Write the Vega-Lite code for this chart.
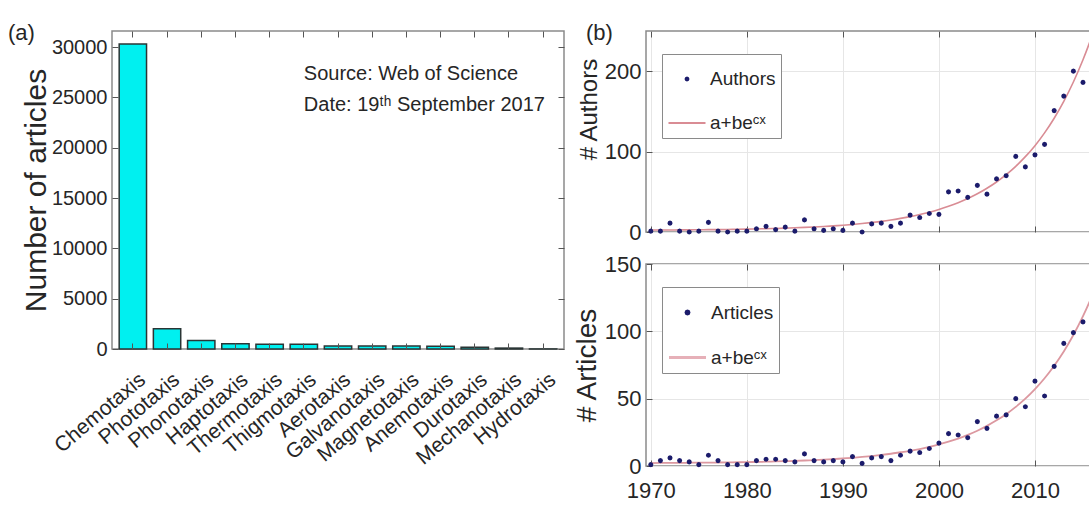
{
  "$schema": "https://vega.github.io/schema/vega-lite/v6.json",
  "background": "white",
  "padding": {"left": 7, "top": 20, "right": 0, "bottom": 0},
  "config": {
    "font": "Liberation Sans, Arial, sans-serif",
    "view": {"stroke": "#8a8a8a", "strokeWidth": 1.5},
    "axis": {
      "domain": false,
      "labelColor": "#262626",
      "titleColor": "#262626",
      "tickColor": "#555555",
      "tickSize": -6,
      "labelPadding": 11,
      "titleFontWeight": "normal",
      "gridColor": "#e6e6e6",
      "gridWidth": 1
    },
    "legend": {"symbolOpacity": 1},
    "title": {"fontSize": 22, "fontWeight": "normal", "color": "#262626", "anchor": "start", "frame": "group", "baseline": "middle", "offset": -14}
  },
  "datasets": {
    "taxis": [
      {"taxis": "Chemotaxis", "articles": 30300},
      {"taxis": "Phototaxis", "articles": 2000},
      {"taxis": "Phonotaxis", "articles": 850},
      {"taxis": "Haptotaxis", "articles": 520},
      {"taxis": "Thermotaxis", "articles": 480},
      {"taxis": "Thigmotaxis", "articles": 470},
      {"taxis": "Aerotaxis", "articles": 300},
      {"taxis": "Galvanotaxis", "articles": 290},
      {"taxis": "Magnetotaxis", "articles": 290},
      {"taxis": "Anemotaxis", "articles": 280},
      {"taxis": "Durotaxis", "articles": 180},
      {"taxis": "Mechanotaxis", "articles": 90},
      {"taxis": "Hydrotaxis", "articles": 5}
    ],
    "notes": [
      {"taxis": "Thigmotaxis", "articles": 27300, "note": "Source: Web of Science"},
      {"taxis": "Thigmotaxis", "articles": 24200, "note": "Date: 19ᵗʰ September 2017"}
    ],
    "yearly": [
      {"year": 1970, "authors": 1, "authorsFit": 2.4, "articles": 1, "articlesFit": 2.2},
      {"year": 1971, "authors": 1, "authorsFit": 2.4, "articles": 4, "articlesFit": 2.3},
      {"year": 1972, "authors": 11, "authorsFit": 2.5, "articles": 6, "articlesFit": 2.3},
      {"year": 1973, "authors": 1, "authorsFit": 2.6, "articles": 4, "articlesFit": 2.3},
      {"year": 1974, "authors": 0, "authorsFit": 2.7, "articles": 3, "articlesFit": 2.4},
      {"year": 1975, "authors": 1, "authorsFit": 2.8, "articles": 1, "articlesFit": 2.5},
      {"year": 1976, "authors": 12, "authorsFit": 2.9, "articles": 8, "articlesFit": 2.5},
      {"year": 1977, "authors": 1, "authorsFit": 3.0, "articles": 4, "articlesFit": 2.6},
      {"year": 1978, "authors": 0, "authorsFit": 3.2, "articles": 1, "articlesFit": 2.7},
      {"year": 1979, "authors": 1, "authorsFit": 3.4, "articles": 1, "articlesFit": 2.8},
      {"year": 1980, "authors": 1, "authorsFit": 3.6, "articles": 1, "articlesFit": 2.9},
      {"year": 1981, "authors": 4, "authorsFit": 3.8, "articles": 4, "articlesFit": 3.0},
      {"year": 1982, "authors": 7, "authorsFit": 4.1, "articles": 5, "articlesFit": 3.2},
      {"year": 1983, "authors": 3, "authorsFit": 4.4, "articles": 5, "articlesFit": 3.4},
      {"year": 1984, "authors": 6, "authorsFit": 4.8, "articles": 4, "articlesFit": 3.6},
      {"year": 1985, "authors": 1, "authorsFit": 5.2, "articles": 3, "articlesFit": 3.8},
      {"year": 1986, "authors": 15, "authorsFit": 5.7, "articles": 9, "articlesFit": 4.1},
      {"year": 1987, "authors": 4, "authorsFit": 6.2, "articles": 4, "articlesFit": 4.4},
      {"year": 1988, "authors": 2, "authorsFit": 6.8, "articles": 3, "articlesFit": 4.7},
      {"year": 1989, "authors": 4, "authorsFit": 7.6, "articles": 4, "articlesFit": 5.1},
      {"year": 1990, "authors": 2, "authorsFit": 8.4, "articles": 3, "articlesFit": 5.6},
      {"year": 1991, "authors": 11, "authorsFit": 9.4, "articles": 7, "articlesFit": 6.1},
      {"year": 1992, "authors": 0, "authorsFit": 10.5, "articles": 2, "articlesFit": 6.7},
      {"year": 1993, "authors": 10, "authorsFit": 11.8, "articles": 6, "articlesFit": 7.4},
      {"year": 1994, "authors": 11, "authorsFit": 13.2, "articles": 7, "articlesFit": 8.2},
      {"year": 1995, "authors": 7, "authorsFit": 14.9, "articles": 4, "articlesFit": 9.1},
      {"year": 1996, "authors": 11, "authorsFit": 16.9, "articles": 8, "articlesFit": 10.2},
      {"year": 1997, "authors": 21, "authorsFit": 19.1, "articles": 11, "articlesFit": 11.3},
      {"year": 1998, "authors": 18, "authorsFit": 21.7, "articles": 10, "articlesFit": 12.6},
      {"year": 1999, "authors": 23, "authorsFit": 24.6, "articles": 13, "articlesFit": 14.2},
      {"year": 2000, "authors": 22, "authorsFit": 28.0, "articles": 17, "articlesFit": 16.0},
      {"year": 2001, "authors": 50, "authorsFit": 31.9, "articles": 24, "articlesFit": 18.1},
      {"year": 2002, "authors": 51, "authorsFit": 36.4, "articles": 23, "articlesFit": 20.4},
      {"year": 2003, "authors": 43, "authorsFit": 41.6, "articles": 21, "articlesFit": 23.1},
      {"year": 2004, "authors": 58, "authorsFit": 47.5, "articles": 33, "articlesFit": 26.2},
      {"year": 2005, "authors": 47, "authorsFit": 54.4, "articles": 28, "articlesFit": 29.8},
      {"year": 2006, "authors": 66, "authorsFit": 62.2, "articles": 37, "articlesFit": 33.9},
      {"year": 2007, "authors": 70, "authorsFit": 71.3, "articles": 38, "articlesFit": 38.5},
      {"year": 2008, "authors": 94, "authorsFit": 81.7, "articles": 50, "articlesFit": 43.9},
      {"year": 2009, "authors": 81, "authorsFit": 93.7, "articles": 44, "articlesFit": 50.0},
      {"year": 2010, "authors": 96, "authorsFit": 107.4, "articles": 63, "articlesFit": 57.1},
      {"year": 2011, "authors": 109, "authorsFit": 123.3, "articles": 52, "articlesFit": 65.2},
      {"year": 2012, "authors": 151, "authorsFit": 141.5, "articles": 74, "articlesFit": 74.5},
      {"year": 2013, "authors": 169, "authorsFit": 162.5, "articles": 91, "articlesFit": 85.1},
      {"year": 2014, "authors": 200, "authorsFit": 186.6, "articles": 99, "articlesFit": 97.3},
      {"year": 2015, "authors": 186, "authorsFit": 214.3, "articles": 107, "articlesFit": 111.3},
      {"year": 2016, "authorsFit": 246.2, "articlesFit": 127.4},
      {"year": 2017, "authorsFit": 282.9, "articlesFit": 145.8}
    ]
  },
  "spacing": 6,
  "resolve": {"scale": {"shape": "independent", "color": "independent"}, "legend": {"shape": "independent", "color": "independent"}},
  "hconcat": [
    {
      "width": 452,
      "height": 318,
      "title": {"text": "(a)", "dx": -104},
      "layer": [
        {
          "data": {"name": "taxis"},
          "mark": {"type": "bar", "fill": "#00f0f0", "stroke": "#2a3535", "strokeWidth": 1.5},
          "encoding": {
            "x": {
              "field": "taxis", "type": "nominal",
              "scale": {"domain": ["Chemotaxis", "Phototaxis", "Phonotaxis", "Haptotaxis", "Thermotaxis", "Thigmotaxis", "Aerotaxis", "Galvanotaxis", "Magnetotaxis", "Anemotaxis", "Durotaxis", "Mechanotaxis", "Hydrotaxis"], "paddingInner": 0.2, "paddingOuter": 0.21},
              "axis": {"orient": "bottom", "title": null, "labelAngle": -40, "labelAlign": "right", "labelBaseline": "middle", "labelFontSize": 21, "labelPadding": 34, "labelOffset": 10, "zindex": 1}
            },
            "y": {
              "field": "articles", "type": "quantitative",
              "scale": {"domain": [0, 31600], "nice": false},
              "axis": {"orient": "left", "title": "Number of articles", "values": [0, 5000, 10000, 15000, 20000, 25000, 30000], "format": "d", "labelFontSize": 20, "titleFontSize": 30, "titlePadding": 0, "grid": false, "zindex": 1}
            }
          }
        },
        {
          "data": {"name": "notes"},
          "mark": {"type": "text", "align": "left", "baseline": "middle", "fontSize": 20, "color": "#262626"},
          "encoding": {
            "x": {"field": "taxis", "type": "nominal", "scale": {"domain": ["Chemotaxis", "Phototaxis", "Phonotaxis", "Haptotaxis", "Thermotaxis", "Thigmotaxis", "Aerotaxis", "Galvanotaxis", "Magnetotaxis", "Anemotaxis", "Durotaxis", "Mechanotaxis", "Hydrotaxis"]}, "axis": null},
            "y": {"field": "articles", "type": "quantitative", "scale": {"domain": [0, 31600], "nice": false}, "axis": null},
            "text": {"field": "note"}
          }
        },
        {
          "data": {"name": "taxis"},
          "mark": {"type": "point", "opacity": 0},
          "encoding": {
            "x": {"field": "taxis", "type": "nominal", "scale": {"domain": ["Chemotaxis", "Phototaxis", "Phonotaxis", "Haptotaxis", "Thermotaxis", "Thigmotaxis", "Aerotaxis", "Galvanotaxis", "Magnetotaxis", "Anemotaxis", "Durotaxis", "Mechanotaxis", "Hydrotaxis"]}, "axis": {"orient": "top", "labels": false, "title": null, "zindex": 1}},
            "y": {"field": "articles", "type": "quantitative", "scale": {"domain": [0, 31600], "nice": false}, "axis": {"orient": "right", "labels": false, "title": null, "values": [0, 5000, 10000, 15000, 20000, 25000, 30000], "grid": false, "zindex": 1}}
          }
        }
      ],
      "resolve": {"axis": {"x": "independent", "y": "independent"}}
    },
    {
      "bounds": "flush",
      "spacing": 32,
      "resolve": {"scale": {"shape": "independent", "color": "independent"}, "legend": {"shape": "independent", "color": "independent"}},
      "vconcat": [
        {
          "width": 461,
          "height": 201,
          "title": {"text": "(b)", "dx": -60},
          "data": {"name": "yearly"},
          "layer": [
            {
              "mark": {"type": "line", "color": "#d98c94", "strokeWidth": 1.6, "clip": true, "interpolate": "monotone"},
              "encoding": {
                "x": {"field": "year", "type": "quantitative", "scale": {"domain": [1969.5, 2017.5], "nice": false, "zero": false}, "axis": {"orient": "bottom", "values": [1970, 1980, 1990, 2000, 2010], "labels": false, "title": null, "grid": true}},
                "y": {"field": "authorsFit", "type": "quantitative", "scale": {"domain": [0, 250], "nice": false}, "axis": {"orient": "left", "values": [0, 100, 200], "title": "# Authors", "titleFontSize": 24, "labelFontSize": 22, "labelPadding": 11, "titlePadding": 3, "titleY": 78, "grid": true}}
              }
            },
            {
              "mark": {"type": "point", "filled": false, "size": 1369, "strokeWidth": 2.4, "opacity": 1},
              "encoding": {
                "x": {"field": "year", "type": "quantitative", "scale": {"domain": [1969.5, 2017.5], "nice": false, "zero": false}, "axis": null},
                "y": {"field": "authors", "type": "quantitative", "scale": {"domain": [0, 250], "nice": false}, "axis": null},
                "color": {
                  "datum": "Authors", "type": "nominal",
                  "scale": {"domain": ["Authors", "a+beᶜˣ"], "range": ["#1b1b6b", "#d98c94"]},
                  "legend": {"orient": "none", "legendX": 16, "legendY": 23, "title": null, "strokeColor": "#8a8a8a", "fillColor": "#ffffff", "padding": 5, "cornerRadius": 0, "symbolSize": 1369, "symbolStrokeWidth": 2.2, "labelFontSize": 19, "labelColor": "#262626", "labelOffset": 3, "rowPadding": 14}
                },
                "shape": {
                  "datum": "Authors", "type": "nominal",
                  "scale": {"domain": ["Authors", "a+beᶜˣ"], "range": ["M0.07,0L0.05,0.05L0,0.07L-0.05,0.05L-0.07,0L-0.05,-0.05L0,-0.07L0.05,-0.05Z", "stroke"]},
                  "legend": {"orient": "none", "legendX": 16, "legendY": 23, "title": null, "strokeColor": "#8a8a8a", "fillColor": "#ffffff", "padding": 5, "cornerRadius": 0, "symbolSize": 1369, "symbolStrokeWidth": 2.2, "labelFontSize": 19, "labelColor": "#262626", "labelOffset": 3, "rowPadding": 14}
                }
              }
            },
            {
              "mark": {"type": "point", "opacity": 0},
              "encoding": {
                "x": {"field": "year", "type": "quantitative", "scale": {"domain": [1969.5, 2017.5], "nice": false, "zero": false}, "axis": {"orient": "top", "values": [1970, 1980, 1990, 2000, 2010], "labels": false, "title": null, "grid": false}},
                "y": {"field": "authors", "type": "quantitative", "scale": {"domain": [0, 250], "nice": false}, "axis": null}
              }
            }
          ],
          "resolve": {"axis": {"x": "independent", "y": "independent"}}
        },
        {
          "width": 461,
          "height": 202,
          "data": {"name": "yearly"},
          "layer": [
            {
              "mark": {"type": "line", "color": "#dc98a0", "strokeWidth": 1.8, "clip": true, "interpolate": "monotone"},
              "encoding": {
                "x": {"field": "year", "type": "quantitative", "scale": {"domain": [1969.5, 2017.5], "nice": false, "zero": false}, "axis": {"orient": "bottom", "values": [1970, 1980, 1990, 2000, 2010], "format": "d", "labelFontSize": 22, "labelPadding": 20, "title": null, "grid": true}},
                "y": {"field": "articlesFit", "type": "quantitative", "scale": {"domain": [0, 150], "nice": false}, "axis": {"orient": "left", "values": [0, 50, 100, 150], "title": "# Articles", "titleFontSize": 28, "labelFontSize": 22, "labelPadding": 11, "titlePadding": 3, "grid": true}}
              }
            },
            {
              "mark": {"type": "point", "filled": false, "size": 1369, "strokeWidth": 2.4, "opacity": 1},
              "encoding": {
                "x": {"field": "year", "type": "quantitative", "scale": {"domain": [1969.5, 2017.5], "nice": false, "zero": false}, "axis": null},
                "y": {"field": "articles", "type": "quantitative", "scale": {"domain": [0, 150], "nice": false}, "axis": null},
                "color": {
                  "datum": "Articles", "type": "nominal",
                  "scale": {"domain": ["Articles", "a+beᶜˣ"], "range": ["#1b1b6b", "#e6b0b8"]},
                  "legend": {"orient": "none", "legendX": 16, "legendY": 23, "title": null, "strokeColor": "#8a8a8a", "fillColor": "#ffffff", "padding": 5, "cornerRadius": 0, "symbolSize": 1369, "symbolStrokeWidth": 3.2, "labelFontSize": 19, "labelColor": "#262626", "labelOffset": 3, "rowPadding": 14}
                },
                "shape": {
                  "datum": "Articles", "type": "nominal",
                  "scale": {"domain": ["Articles", "a+beᶜˣ"], "range": ["M0.07,0L0.05,0.05L0,0.07L-0.05,0.05L-0.07,0L-0.05,-0.05L0,-0.07L0.05,-0.05Z", "stroke"]},
                  "legend": {"orient": "none", "legendX": 16, "legendY": 23, "title": null, "strokeColor": "#8a8a8a", "fillColor": "#ffffff", "padding": 5, "cornerRadius": 0, "symbolSize": 1369, "symbolStrokeWidth": 3.2, "labelFontSize": 19, "labelColor": "#262626", "labelOffset": 3, "rowPadding": 14}
                }
              }
            },
            {
              "mark": {"type": "point", "opacity": 0},
              "encoding": {
                "x": {"field": "year", "type": "quantitative", "scale": {"domain": [1969.5, 2017.5], "nice": false, "zero": false}, "axis": {"orient": "top", "values": [1970, 1980, 1990, 2000, 2010], "labels": false, "title": null, "grid": false}},
                "y": {"field": "articles", "type": "quantitative", "scale": {"domain": [0, 150], "nice": false}, "axis": null}
              }
            }
          ],
          "resolve": {"axis": {"x": "independent", "y": "independent"}}
        }
      ]
    }
  ]
}
